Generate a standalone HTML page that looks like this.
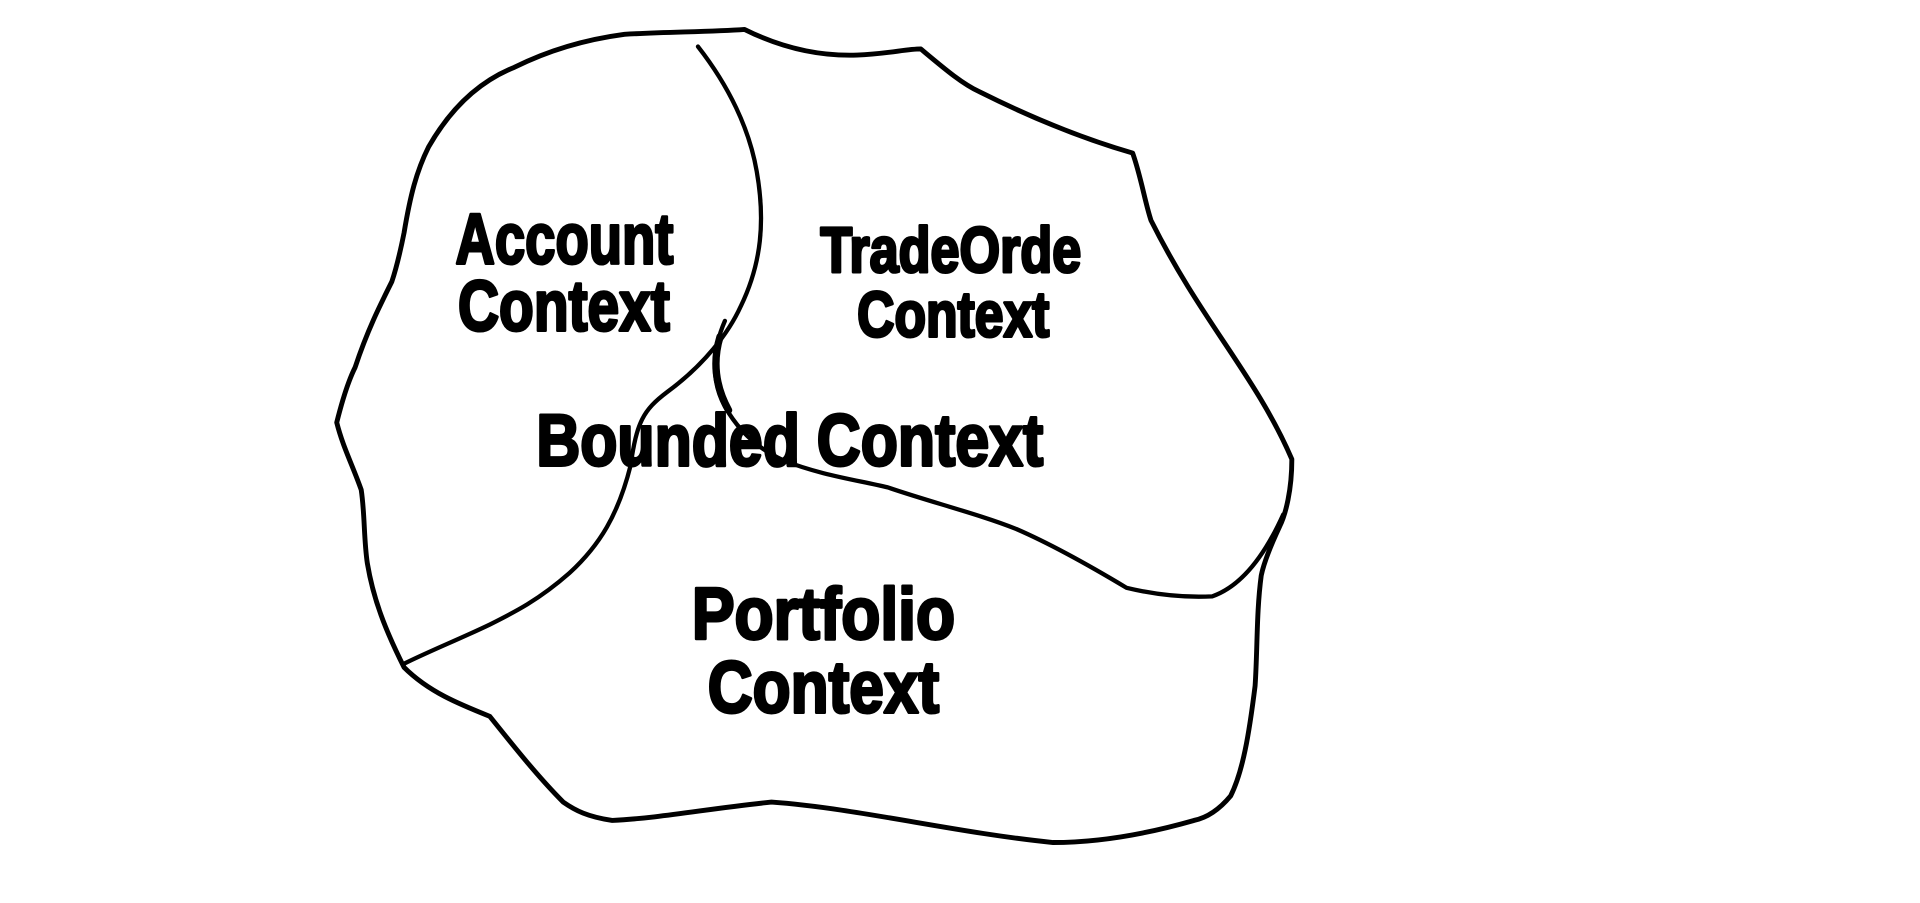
<!DOCTYPE html>
<html><head><meta charset="utf-8"><style>
html,body{margin:0;padding:0;background:#fff;width:1920px;height:903px;overflow:hidden}
svg{display:block}
text{font-family:"Liberation Sans",sans-serif;font-weight:bold;fill:#000;stroke:#000;stroke-width:2.5;stroke-linejoin:round}
</style></head><body>
<svg width="1920" height="903" viewBox="0 0 1568 737.4" preserveAspectRatio="none">
<g fill="none" stroke="#000" stroke-linejoin="round" stroke-linecap="round">
<path stroke-width="4" d="M510,28 C545,26 580,26 608,24 C640,40 670,46 700,45 C725,44 740,40 752,40 C770,55 785,68 800,75 C840,95 880,112 925,125 C932,145 935,165 940,180 C960,220 980,250 1000,280 C1020,310 1040,340 1055,375 C1055,400 1050,420 1045,430 C1038,445 1032,460 1030,470 C1026,500 1027,530 1025,560 C1020,600 1015,630 1005,650 C995,662 985,668 975,670 C940,680 900,688 860,688 C780,680 700,660 630,655 C580,660 540,668 500,670 C480,667 470,662 460,655 C440,635 420,610 400,585 C375,575 350,565 330,545 C315,515 305,490 300,460 C297,440 298,420 295,400 C288,380 280,365 275,345 C280,325 285,310 290,300 C300,270 310,250 320,230 C325,215 328,200 330,190 C335,160 340,140 350,120 C370,85 395,65 420,55 C450,40 480,32 510,28 Z"/>
<path stroke-width="3.5" d="M570,38 C595,70 612,105 618,140 C625,180 622,215 605,250 C595,272 575,298 545,320 C525,335 520,345 515,380 C505,420 490,445 465,468 C440,490 420,500 400,510 C375,522 350,532 330,542"/>
<path stroke-width="3.5" d="M592,262 C582,285 580,310 592,332 C605,355 622,368 640,376 C670,388 700,392 725,398 C760,410 800,420 830,432 C860,445 890,462 920,480 C945,486 970,488 990,487 C1010,480 1030,460 1048,420"/>
<path stroke-width="6" d="M588,275 C582,295 584,315 595,335"/>
</g>
<text x="372" y="215" font-size="58" textLength="178" lengthAdjust="spacingAndGlyphs">Account</text>
<text x="374" y="270" font-size="58" textLength="173" lengthAdjust="spacingAndGlyphs">Context</text>
<text x="670" y="222" font-size="52" textLength="213" lengthAdjust="spacingAndGlyphs">TradeOrde</text>
<text x="700" y="275" font-size="52" textLength="157" lengthAdjust="spacingAndGlyphs">Context</text>
<text x="438" y="380" font-size="60" textLength="414" lengthAdjust="spacingAndGlyphs">Bounded Context</text>
<text x="565" y="522" font-size="60" textLength="215" lengthAdjust="spacingAndGlyphs">Portfolio</text>
<text x="578" y="582" font-size="60" textLength="189" lengthAdjust="spacingAndGlyphs">Context</text>
</svg>
</body></html>
